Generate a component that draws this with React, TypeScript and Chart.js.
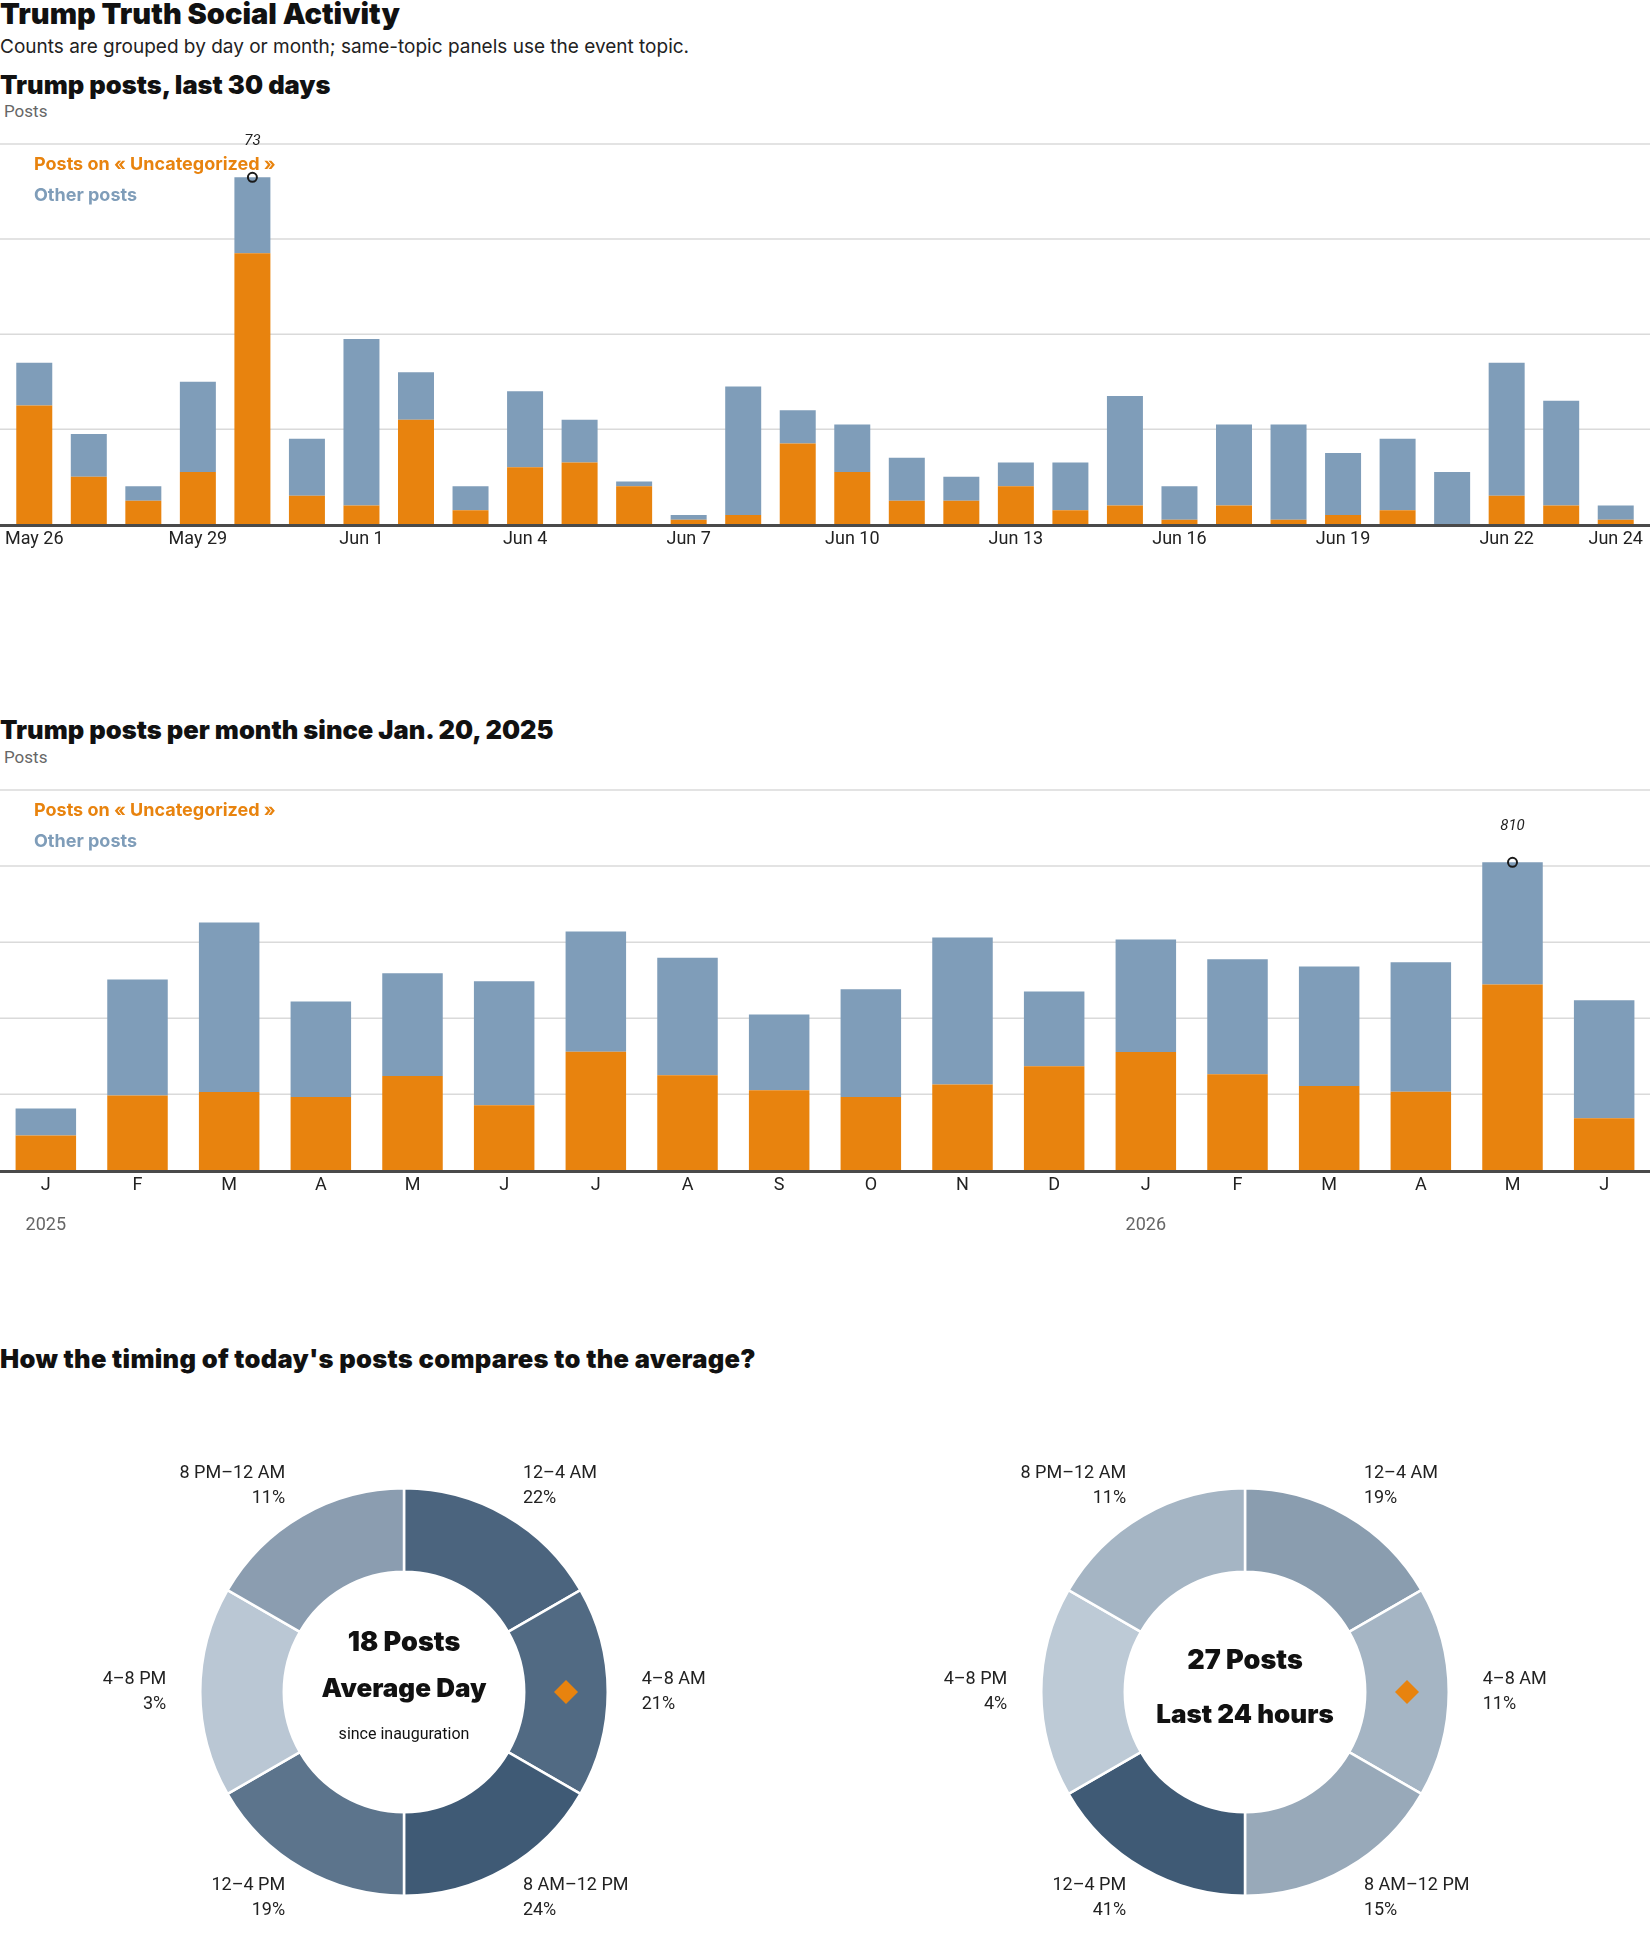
import React, { useEffect, useRef } from 'react';
import { Chart, registerables } from 'chart.js';

Chart.register(...registerables);

// ---------- DATA ----------
const dayLabels = [
  'May 26', 'May 27', 'May 28', 'May 29', 'May 30', 'May 31',
  'Jun 1', 'Jun 2', 'Jun 3', 'Jun 4', 'Jun 5', 'Jun 6', 'Jun 7', 'Jun 8', 'Jun 9',
  'Jun 10', 'Jun 11', 'Jun 12', 'Jun 13', 'Jun 14', 'Jun 15', 'Jun 16', 'Jun 17',
  'Jun 18', 'Jun 19', 'Jun 20', 'Jun 21', 'Jun 22', 'Jun 23', 'Jun 24',
];
const dailyUncategorized = [25, 10, 5, 11, 57, 6, 4, 22, 3, 12, 13, 8, 1, 2, 17, 11, 5, 5, 8, 3, 4, 1, 4, 1, 2, 3, 0, 6, 4, 1];
const dailyOther = [9, 9, 3, 19, 16, 12, 35, 10, 5, 16, 9, 1, 1, 27, 7, 10, 9, 5, 5, 10, 23, 7, 17, 20, 13, 15, 11, 28, 22, 3];

const monthKeys = [
  '2025-01', '2025-02', '2025-03', '2025-04', '2025-05', '2025-06', '2025-07', '2025-08', '2025-09',
  '2025-10', '2025-11', '2025-12', '2026-01', '2026-02', '2026-03', '2026-04', '2026-05', '2026-06',
];
const monthInitials = ['J', 'F', 'M', 'A', 'M', 'J', 'J', 'A', 'S', 'O', 'N', 'D'];
const monthlyUncategorized = [92, 197, 206, 193, 248, 171, 312, 250, 211, 193, 226, 274, 311, 253, 222, 207, 489, 137];
const monthlyOther = [71, 305, 446, 251, 270, 326, 316, 309, 199, 283, 386, 196, 296, 302, 314, 340, 321, 310];

const timeSlots = ['12–4 AM', '4–8 AM', '8 AM–12 PM', '12–4 PM', '4–8 PM', '8 PM–12 AM'];
const slotHours = [4, 4, 4, 4, 4, 4];
const avgShares = [22, 21, 24, 19, 3, 11];
const todayShares = [19, 11, 15, 41, 4, 11];
const currentSlot = '4–8 AM';

const seriesNames = ['Posts on « Uncategorized »', 'Other posts'];

// ---------- STYLE ----------
const FONT = 'Roboto, "Noto Sans", sans-serif';
const HEAVY = 'Inter, Roboto, sans-serif';
const ORANGE = '#e8830e';
const BLUE = '#7f9db9';
const LIGHT = [203, 214, 225];
const DARK = [63, 90, 117];

function shade(share: number, max: number) {
  const t = share / max;
  return `rgb(${LIGHT.map((l, k) => Math.round(l + (DARK[k] - l) * t)).join(',')})`;
}

// ---------- PLUGINS ----------
const gridPlugin = {
  id: 'fullGrid',
  beforeDatasetsDraw(chart: any) {
    const { ctx, width } = chart;
    const y = chart.scales.y;
    ctx.save();
    ctx.strokeStyle = '#dadada';
    ctx.lineWidth = 1.5;
    y.ticks.forEach((t: any) => {
      if (t.value === 0) return;
      const py = y.getPixelForValue(t.value);
      ctx.beginPath();
      ctx.moveTo(0, py);
      ctx.lineTo(width, py);
      ctx.stroke();
    });
    ctx.restore();
  },
  afterDatasetsDraw(chart: any) {
    const { ctx, width } = chart;
    const y = chart.scales.y;
    const py = y.getPixelForValue(0) + 1;
    ctx.save();
    ctx.strokeStyle = '#4a4a4a';
    ctx.lineWidth = 3;
    ctx.beginPath();
    ctx.moveTo(0, py);
    ctx.lineTo(width, py);
    ctx.stroke();
    ctx.restore();
  },
};

const legendPlugin = {
  id: 'insideLegend',
  afterDraw(chart: any) {
    const { ctx, chartArea } = chart;
    ctx.save();
    ctx.font = `bold 18px ${HEAVY}`;
    ctx.textBaseline = 'middle';
    ctx.textAlign = 'left';
    chart.data.datasets.forEach((ds: any, i: number) => {
      ctx.fillStyle = ds.backgroundColor;
      ctx.fillText(ds.label, 34, chartArea.top + 21 + i * 31);
    });
    ctx.restore();
  },
};

const peakPlugin = {
  id: 'peak',
  afterDatasetsDraw(chart: any) {
    const { ctx } = chart;
    const n = chart.data.labels.length;
    let best = -1;
    let bestIdx = 0;
    for (let i = 0; i < n; i++) {
      const tot = chart.data.datasets.reduce((s: number, d: any) => s + d.data[i], 0);
      if (tot > best) {
        best = tot;
        bestIdx = i;
      }
    }
    const x = chart.scales.x.getPixelForValue(bestIdx);
    const y = chart.scales.y.getPixelForValue(best);
    ctx.save();
    ctx.strokeStyle = '#1a1a1a';
    ctx.lineWidth = 2;
    ctx.beginPath();
    ctx.arc(x, y, 4.5, 0, Math.PI * 2);
    ctx.stroke();
    ctx.fillStyle = '#222';
    ctx.font = `italic 15px "Liberation Sans Narrow", ${FONT}`;
    ctx.textAlign = 'center';
    ctx.textBaseline = 'middle';
    ctx.fillText(String(best), x, y - 36);
    ctx.restore();
  },
};

const yearPlugin = {
  id: 'yearLabels',
  afterDraw(chart: any) {
    const { ctx, chartArea } = chart;
    const xs = chart.scales.x;
    ctx.save();
    ctx.fillStyle = '#666';
    ctx.font = `18px ${FONT}`;
    ctx.textAlign = 'center';
    ctx.textBaseline = 'middle';
    monthKeys.forEach((k, i) => {
      const [yr, mo] = k.split('-');
      if (mo === '01') ctx.fillText(yr, xs.getPixelForValue(i), chartArea.bottom + 55.5);
    });
    ctx.restore();
  },
};

const donutPlugin = {
  id: 'donutDecor',
  afterDraw(chart: any, _args: any, opts: any) {
    const { ctx } = chart;
    const meta = chart.getDatasetMeta(0);
    ctx.save();
    ctx.textBaseline = 'middle';
    let cx = 0;
    let cy = 0;
    meta.data.forEach((arc: any, i: number) => {
      const p = arc.getProps(['startAngle', 'endAngle', 'outerRadius', 'x', 'y'], true);
      cx = p.x;
      cy = p.y;
      const mid = (p.startAngle + p.endAngle) / 2;
      const r = p.outerRadius + 34;
      const lx = p.x + Math.cos(mid) * r;
      const ly = p.y + Math.sin(mid) * r;
      const c = Math.cos(mid);
      ctx.textAlign = c > 0.01 ? 'left' : c < -0.01 ? 'right' : 'center';
      ctx.fillStyle = '#222';
      ctx.font = `18px ${FONT}`;
      ctx.fillText(chart.data.labels[i], lx, ly - 12.5);
      ctx.fillText(`${opts.shares[i]}%`, lx, ly + 12.5);
      if (chart.data.labels[i] === opts.current) {
        const cp = arc.getCenterPoint();
        const h = 12;
        ctx.fillStyle = ORANGE;
        ctx.beginPath();
        ctx.moveTo(cp.x, cp.y - h);
        ctx.lineTo(cp.x + h, cp.y);
        ctx.lineTo(cp.x, cp.y + h);
        ctx.lineTo(cp.x - h, cp.y);
        ctx.closePath();
        ctx.fill();
      }
    });
    ctx.textAlign = 'center';
    ctx.fillStyle = '#111';
    (opts.centerLines || []).forEach((l: any) => {
      ctx.font = l.font;
      ctx.fillText(l.text, cx, cy + l.dy);
    });
    ctx.restore();
  },
};

// ---------- CHART BUILDERS ----------
function barConfig(labels: string[], unc: number[], other: number[], yMax: number, step: number, tickCb: any, padTop: number, padSide: number, padBottom: number, extraPlugins: any[]) {
  return {
    type: 'bar',
    data: {
      labels,
      datasets: [
        { label: seriesNames[0], data: unc, backgroundColor: ORANGE, borderWidth: 0, barPercentage: 0.66, categoryPercentage: 1 },
        { label: seriesNames[1], data: other, backgroundColor: BLUE, borderWidth: 0, barPercentage: 0.66, categoryPercentage: 1 },
      ],
    },
    options: {
      responsive: false,
      animation: false,
      devicePixelRatio: 1,
      layout: { padding: { top: padTop, left: padSide, right: padSide, bottom: padBottom } },
      plugins: { legend: { display: false }, tooltip: { enabled: false } },
      scales: {
        x: {
          stacked: true,
          grid: { display: false, drawTicks: false },
          border: { display: false },
          ticks: {
            autoSkip: false,
            maxRotation: 0,
            padding: 4,
            color: '#222',
            font: { family: FONT, size: 18 },
            callback: tickCb,
          },
        },
        y: {
          stacked: true,
          min: 0,
          max: yMax,
          ticks: { display: false, stepSize: step },
          grid: { display: false, drawTicks: false },
          border: { display: false },
        },
      },
    },
    plugins: [gridPlugin, legendPlugin, peakPlugin, ...extraPlugins],
  };
}

function donutConfig(shares: number[], pad: any, centerLines: any[]) {
  const max = Math.max(...shares);
  return {
    type: 'doughnut',
    data: {
      labels: timeSlots,
      datasets: [
        {
          data: slotHours,
          backgroundColor: shares.map((s) => shade(s, max)),
          borderColor: '#ffffff',
          borderWidth: 2.5,
        },
      ],
    },
    options: {
      responsive: false,
      animation: false,
      devicePixelRatio: 1,
      cutout: '59%',
      layout: { padding: pad },
      plugins: {
        legend: { display: false },
        tooltip: { enabled: false },
        donutDecor: { shares, current: currentSlot, centerLines },
      },
    },
    plugins: [donutPlugin],
  };
}

function ChartCanvas({ make, left, top, width, height }: any) {
  const ref = useRef<HTMLCanvasElement | null>(null);
  useEffect(() => {
    if (!ref.current) return;
    const chart = new Chart(ref.current, make());
    return () => chart.destroy();
  }, []);
  return (
    <canvas
      ref={ref}
      width={width}
      height={height}
      style={{ position: 'absolute', left, top, width, height }}
    />
  );
}

function Text({ children, left = 0, top, size, weight = 400, color = '#111', family = FONT, extra = {} }: any) {
  return (
    <div
      style={{
        position: 'absolute',
        left,
        top,
        fontFamily: family,
        fontSize: size,
        fontWeight: weight,
        lineHeight: `${size}px`,
        color,
        whiteSpace: 'nowrap',
        ...extra,
      }}
    >
      {children}
    </div>
  );
}

export default function App() {
  const dayTick = (_v: any, i: number) =>
    i % 3 === 0 || i === dayLabels.length - 1 ? dayLabels[i] : '';
  const monthTick = (_v: any, i: number) => monthInitials[parseInt(monthKeys[i].split('-')[1], 10) - 1];

  return (
    <div style={{ position: 'absolute', left: 0, top: 0, width: 1650, height: 1950, background: '#fff', overflow: 'hidden' }}>
      <Text top={-1} size={29} weight={900} family={HEAVY}>Trump Truth Social Activity</Text>
      <Text top={37} size={19} color="#222" family={HEAVY}>Counts are grouped by day or month; same-topic panels use the event topic.</Text>
      <Text top={72} size={25.5} weight={900} family={HEAVY}>Trump posts, last 30 days</Text>
      <Text left={4} top={103} size={17} color="#666">Posts</Text>

      <ChartCanvas
        left={0}
        top={120}
        width={1650}
        height={434}
        make={() => barConfig(dayLabels, dailyUncategorized, dailyOther, 80, 20, dayTick, 24, 7, 0, [])}
      />

      <Text top={717} size={25.5} weight={900} family={HEAVY}>Trump posts per month since Jan. 20, 2025</Text>
      <Text left={4} top={749} size={17} color="#666">Posts</Text>

      <ChartCanvas
        left={0}
        top={770}
        width={1650}
        height={475}
        make={() => barConfig(monthKeys, monthlyUncategorized, monthlyOther, 1000, 200, monthTick, 20, 0, 45, [yearPlugin])}
      />

      <Text top={1346} size={25.5} weight={900} family={HEAVY} extra={{ letterSpacing: '0.3px' }}>How the timing of today's posts compares to the average?</Text>

      <ChartCanvas
        left={0}
        top={1440}
        width={825}
        height={510}
        make={() =>
          donutConfig(avgShares, { left: 199, right: 216, top: 47, bottom: 53 }, [
            { text: '18 Posts', font: `900 27px ${HEAVY}`, dy: -49 },
            { text: 'Average Day', font: `900 26px ${HEAVY}`, dy: -3 },
            { text: 'since inauguration', font: `16px ${FONT}`, dy: 43 },
          ])
        }
      />
      <ChartCanvas
        left={825}
        top={1440}
        width={825}
        height={510}
        make={() =>
          donutConfig(todayShares, { left: 215, right: 200, top: 47, bottom: 53 }, [
            { text: '27 Posts', font: `900 27px ${HEAVY}`, dy: -31 },
            { text: 'Last 24 hours', font: `900 26px ${HEAVY}`, dy: 23 },
          ])
        }
      />
    </div>
  );
}
